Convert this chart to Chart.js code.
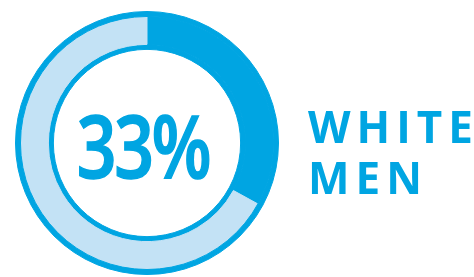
<!DOCTYPE html>
<html>
<head>
<meta charset="utf-8">
<script src="https://cdn.jsdelivr.net/npm/chart.js@4.4.0/dist/chart.umd.min.js"></script>
<title>White men share</title>
<style>
  html, body { margin: 0; padding: 0; background: #fff; }
  body { width: 474px; height: 277px; position: relative; overflow: hidden; font-family: "Open Sans", sans-serif; }
  #wrap { position: absolute; left: 15px; top: 11px; width: 264px; height: 264px; }
  #pct { position: absolute; left: 0; top: 101px; width: 286px; text-align: center;
         font-size: 87px; font-weight: 600; color: #00a5e2; line-height: 87px;
         transform: scaleX(0.8); letter-spacing: -3px; -webkit-text-stroke: 1.5px #00a5e2; }
  #label { position: absolute; left: 308px; top: 101px; color: #00a5e2; font-weight: 700;
           font-size: 44px; line-height: 51px; letter-spacing: 6px; }
</style>
</head>
<body>
<div id="wrap"><canvas id="donut"></canvas></div>
<div id="pct">33%</div>
<div id="label">WHITE<br>MEN</div>
<script>
  const categories = ['White men', 'Others'];
  const shares = [33, 67];
  const ringValue = [100];

  const dark = '#00a5e2';
  const light = '#c3e2f5';

  const ctx = document.getElementById('donut').getContext('2d');
  new Chart(ctx, {
    type: 'doughnut',
    data: {
      labels: categories,
      datasets: [
        { data: ringValue, backgroundColor: [dark], borderColor: [dark], borderWidth: 1, weight: 5 },
        { data: shares, backgroundColor: [dark, light], borderColor: [dark, light], borderWidth: 1, weight: 28 },
        { data: ringValue, backgroundColor: [dark], borderColor: [dark], borderWidth: 1, weight: 5 }
      ]
    },
    options: {
      responsive: true,
      maintainAspectRatio: false,
      animation: false,
      cutout: '71.2%',
      layout: { padding: 0 },
      plugins: { legend: { display: false }, tooltip: { enabled: false } }
    }
  });
</script>
</body>
</html>
